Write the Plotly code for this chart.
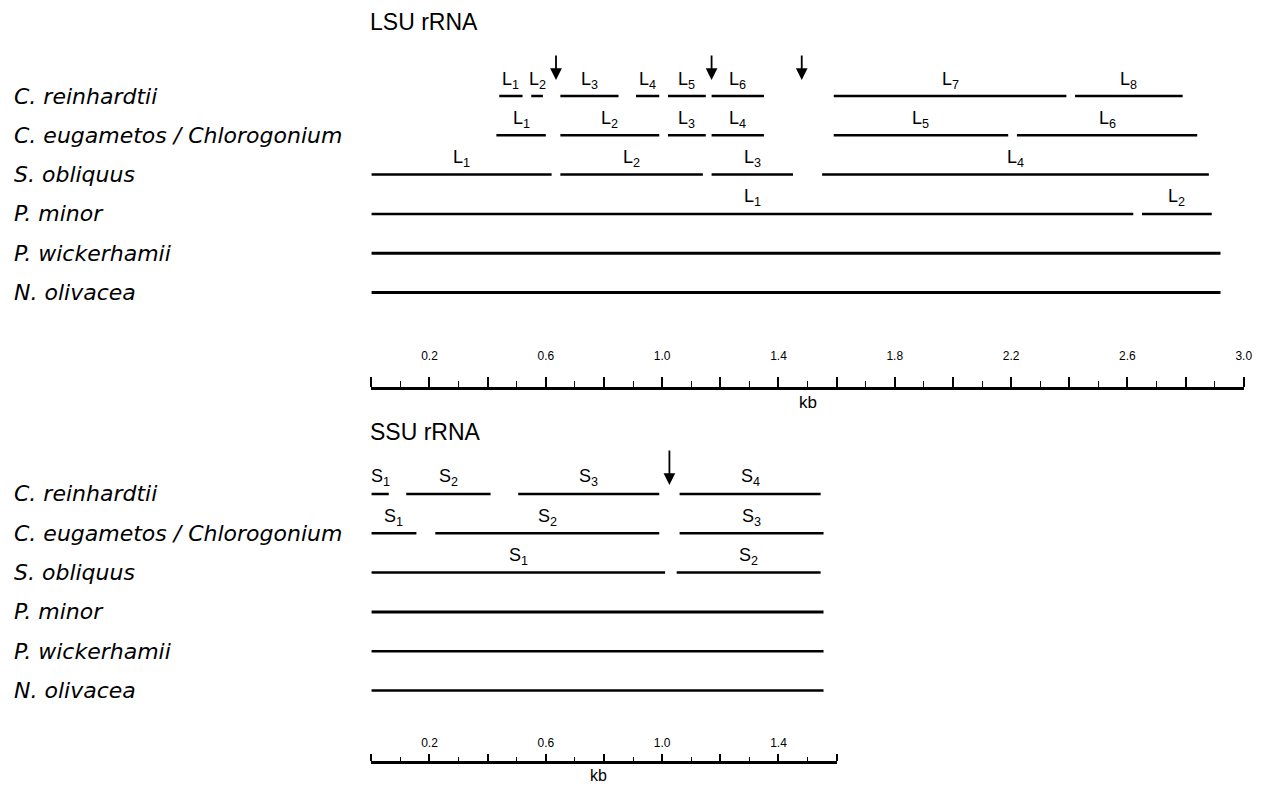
import plotly.graph_objects as go

W, H = 1262, 787

# ---------------- data ----------------
SPECIES = ["C. reinhardtii", "C. eugametos / Chlorogonium", "S. obliquus",
           "P. minor", "P. wickerhamii", "N. olivacea"]

# LSU rRNA fragments (kb)
LSU_CR_START = [0.44, 0.55, 0.65, 0.91, 1.02, 1.17, 1.59, 2.42]
LSU_CR_END   = [0.52, 0.59, 0.85, 0.99, 1.15, 1.35, 2.39, 2.79]
LSU_CR_LAB   = ["L1", "L2", "L3", "L4", "L5", "L6", "L7", "L8"]
LSU_CE_START = [0.43, 0.65, 1.02, 1.17, 1.59, 2.22]
LSU_CE_END   = [0.60, 0.99, 1.15, 1.35, 2.19, 2.84]
LSU_CE_LAB   = ["L1", "L2", "L3", "L4", "L5", "L6"]
LSU_SO_START = [0.00, 0.65, 1.17, 1.55]
LSU_SO_END   = [0.62, 1.14, 1.45, 2.88]
LSU_SO_LAB   = ["L1", "L2", "L3", "L4"]
LSU_PM_START = [0.00, 2.65]
LSU_PM_END   = [2.62, 2.89]
LSU_PM_LAB   = ["L1", "L2"]
LSU_PW_START = [0.00]
LSU_PW_END   = [2.92]
LSU_NO_START = [0.00]
LSU_NO_END   = [2.92]
LSU_ARROWS   = [0.635, 1.17, 1.48]

# SSU rRNA fragments (kb)
SSU_CR_START = [0.00, 0.12, 0.505, 1.06]
SSU_CR_END   = [0.06, 0.41, 0.99, 1.545]
SSU_CR_LAB   = ["S1", "S2", "S3", "S4"]
SSU_CE_START = [0.00, 0.22, 1.06]
SSU_CE_END   = [0.155, 0.99, 1.555]
SSU_CE_LAB   = ["S1", "S2", "S3"]
SSU_SO_START = [0.00, 1.05]
SSU_SO_END   = [1.01, 1.545]
SSU_SO_LAB   = ["S1", "S2"]
SSU_PM_START = [0.00]
SSU_PM_END   = [1.555]
SSU_PW_START = [0.00]
SSU_PW_END   = [1.555]
SSU_NO_START = [0.00]
SSU_NO_END   = [1.555]
SSU_ARROWS   = [1.025]

LSU_TICKS = [round(0.1 * i, 1) for i in range(31)]
LSU_TICK_LABELS = ["0.2", "0.6", "1.0", "1.4", "1.8", "2.2", "2.6", "3.0"]
SSU_TICKS = [round(0.1 * i, 1) for i in range(17)]
SSU_TICK_LABELS = ["0.2", "0.6", "1.0", "1.4"]

LSU_ROWS = [
    (LSU_CR_START, LSU_CR_END, LSU_CR_LAB),
    (LSU_CE_START, LSU_CE_END, LSU_CE_LAB),
    (LSU_SO_START, LSU_SO_END, LSU_SO_LAB),
    (LSU_PM_START, LSU_PM_END, LSU_PM_LAB),
    (LSU_PW_START, LSU_PW_END, None),
    (LSU_NO_START, LSU_NO_END, None),
]
SSU_ROWS = [
    (SSU_CR_START, SSU_CR_END, SSU_CR_LAB),
    (SSU_CE_START, SSU_CE_END, SSU_CE_LAB),
    (SSU_SO_START, SSU_SO_END, SSU_SO_LAB),
    (SSU_PM_START, SSU_PM_END, None),
    (SSU_PW_START, SSU_PW_END, None),
    (SSU_NO_START, SSU_NO_END, None),
]

# ---------------- layout helpers ----------------
PX0 = 374.0      # pixel of 0 kb
PXK = 292.9      # pixels per kb
STEP = 39.3      # row spacing in px
LSU_ROW0 = 96.0
SSU_ROW0 = 494.0
FONT = "Liberation Sans, Arial, sans-serif"
LFONT = "DejaVu Sans, sans-serif"


def py(px):
    return 1 - px / H


def xdom(kbmax):
    return [PX0 / W, (PX0 + kbmax * PXK) / W]


def ydom(row0):
    return [py(row0 + 5.5 * STEP), py(row0 - 0.5 * STEP)]


def sublabel(s):
    return f"{s[0]}<sub>{s[1:]}</sub>"


fig = go.Figure()
annotations = []


def add_block(rows, xref, yref, widths):
    for i, (starts, ends, labs) in enumerate(rows):
        xs, ys = [], []
        for s, e in zip(starts, ends):
            xs += [s, e, None]
            ys += [SPECIES[i], SPECIES[i], None]
        fig.add_trace(go.Scatter(
            x=xs, y=ys, mode="lines", xaxis=xref, yaxis=yref,
            line=dict(color="black", width=widths[i]),
            hoverinfo="skip", showlegend=False))
        if labs:
            for s, e, lab in zip(starts, ends, labs):
                annotations.append(dict(
                    x=(s + e) / 2, y=SPECIES[i], xref=xref, yref=yref,
                    text=sublabel(lab), showarrow=False, yshift=16,
                    font=dict(family=FONT, size=18, color="black")))
        annotations.append(dict(
            x=12 / W, xref="paper", xanchor="left", y=SPECIES[i], yref=yref,
            yanchor="middle", text=f"<i>{SPECIES[i]}</i>", showarrow=False,
            font=dict(family=LFONT, size=22, color="black")))


add_block(LSU_ROWS, "x", "y", [2.5, 2.5, 2.5, 2.5, 3, 3])
add_block(SSU_ROWS, "x2", "y2", [2.5, 2.5, 2.5, 3, 2.5, 2.5])

# invisible anchors for the scale axes
fig.add_trace(go.Scatter(x=[0, 3.0], y=[SPECIES[0]] * 2, xaxis="x3", yaxis="y",
                         mode="markers", marker=dict(opacity=0),
                         hoverinfo="skip", showlegend=False))
fig.add_trace(go.Scatter(x=[0, 1.6], y=[SPECIES[0]] * 2, xaxis="x4", yaxis="y2",
                         mode="markers", marker=dict(opacity=0),
                         hoverinfo="skip", showlegend=False))

# arrows
for a in LSU_ARROWS:
    annotations.append(dict(x=a, xref="x", y=py(80), yref="paper", text="",
                            showarrow=True, ax=0, ay=-26, arrowhead=2,
                            arrowsize=1.3, arrowwidth=1.8, arrowcolor="black"))
for a in SSU_ARROWS:
    annotations.append(dict(x=a, xref="x2", y=py(485), yref="paper", text="",
                            showarrow=True, ax=0, ay=-36, arrowhead=2,
                            arrowsize=1.3, arrowwidth=1.8, arrowcolor="black"))

# titles and kb labels
annotations += [
    dict(x=371 / W, xref="paper", xanchor="left", y=py(22), yref="paper",
         yanchor="middle", text="LSU rRNA", showarrow=False,
         font=dict(family=FONT, size=23, color="black")),
    dict(x=371 / W, xref="paper", xanchor="left", y=py(432), yref="paper",
         yanchor="middle", text="SSU rRNA", showarrow=False,
         font=dict(family=FONT, size=23, color="black")),
    dict(x=1.5, xref="x", y=py(402), yref="paper", yanchor="middle", text="kb",
         showarrow=False, font=dict(family=FONT, size=17, color="black")),
    dict(x=0.78, xref="x2", y=py(775), yref="paper", yanchor="middle", text="kb",
         showarrow=False, font=dict(family=FONT, size=16, color="black")),
]


def scale_axis(ticks, labels, kbmax, overl, pos, major_len, minor_len, standoff, lw):
    major = [t for t in ticks if round(t * 10) % 2 == 0]
    minor = [t for t in ticks if round(t * 10) % 2 == 1]
    text = [f"{t:.1f}" if f"{t:.1f}" in labels else "" for t in major]
    return dict(overlaying=overl, anchor="free", position=pos, side="top",
                range=[0, kbmax], domain=xdom(kbmax), showgrid=False,
                zeroline=False, showline=True, linecolor="black", linewidth=lw,
                ticks="outside", ticklen=major_len, tickwidth=1.6,
                tickcolor="black", tickmode="array", tickvals=major,
                ticktext=text, ticklabelstandoff=standoff,
                tickfont=dict(family=FONT, size=12, color="black"),
                minor=dict(tickmode="array", tickvals=minor, ticks="outside",
                           ticklen=minor_len, tickwidth=1.4, tickcolor="black",
                           showgrid=False))


fig.update_layout(
    width=W, height=H, margin=dict(l=0, r=0, t=0, b=0),
    paper_bgcolor="white", plot_bgcolor="white",
    xaxis=dict(domain=xdom(3.0), range=[0, 3.0], visible=False, anchor="y"),
    yaxis=dict(domain=ydom(LSU_ROW0), type="category", categoryarray=SPECIES,
               range=[5.5, -0.5], visible=False, anchor="x"),
    xaxis2=dict(domain=xdom(1.6), range=[0, 1.6], visible=False, anchor="y2"),
    yaxis2=dict(domain=ydom(SSU_ROW0), type="category", categoryarray=SPECIES,
                range=[5.5, -0.5], visible=False, anchor="x2"),
    xaxis3=scale_axis(LSU_TICKS, LSU_TICK_LABELS, 3.0, "x", py(388), 10, 6, 12, 3),
    xaxis4=scale_axis(SSU_TICKS, SSU_TICK_LABELS, 1.6, "x2", py(762), 7, 4, 2, 2.5),
    annotations=annotations,
)

fig.write_html("out.html", config={"displayModeBar": False},
               post_script="document.body.style.margin='0';"
                           "document.body.style.overflow='hidden';")
